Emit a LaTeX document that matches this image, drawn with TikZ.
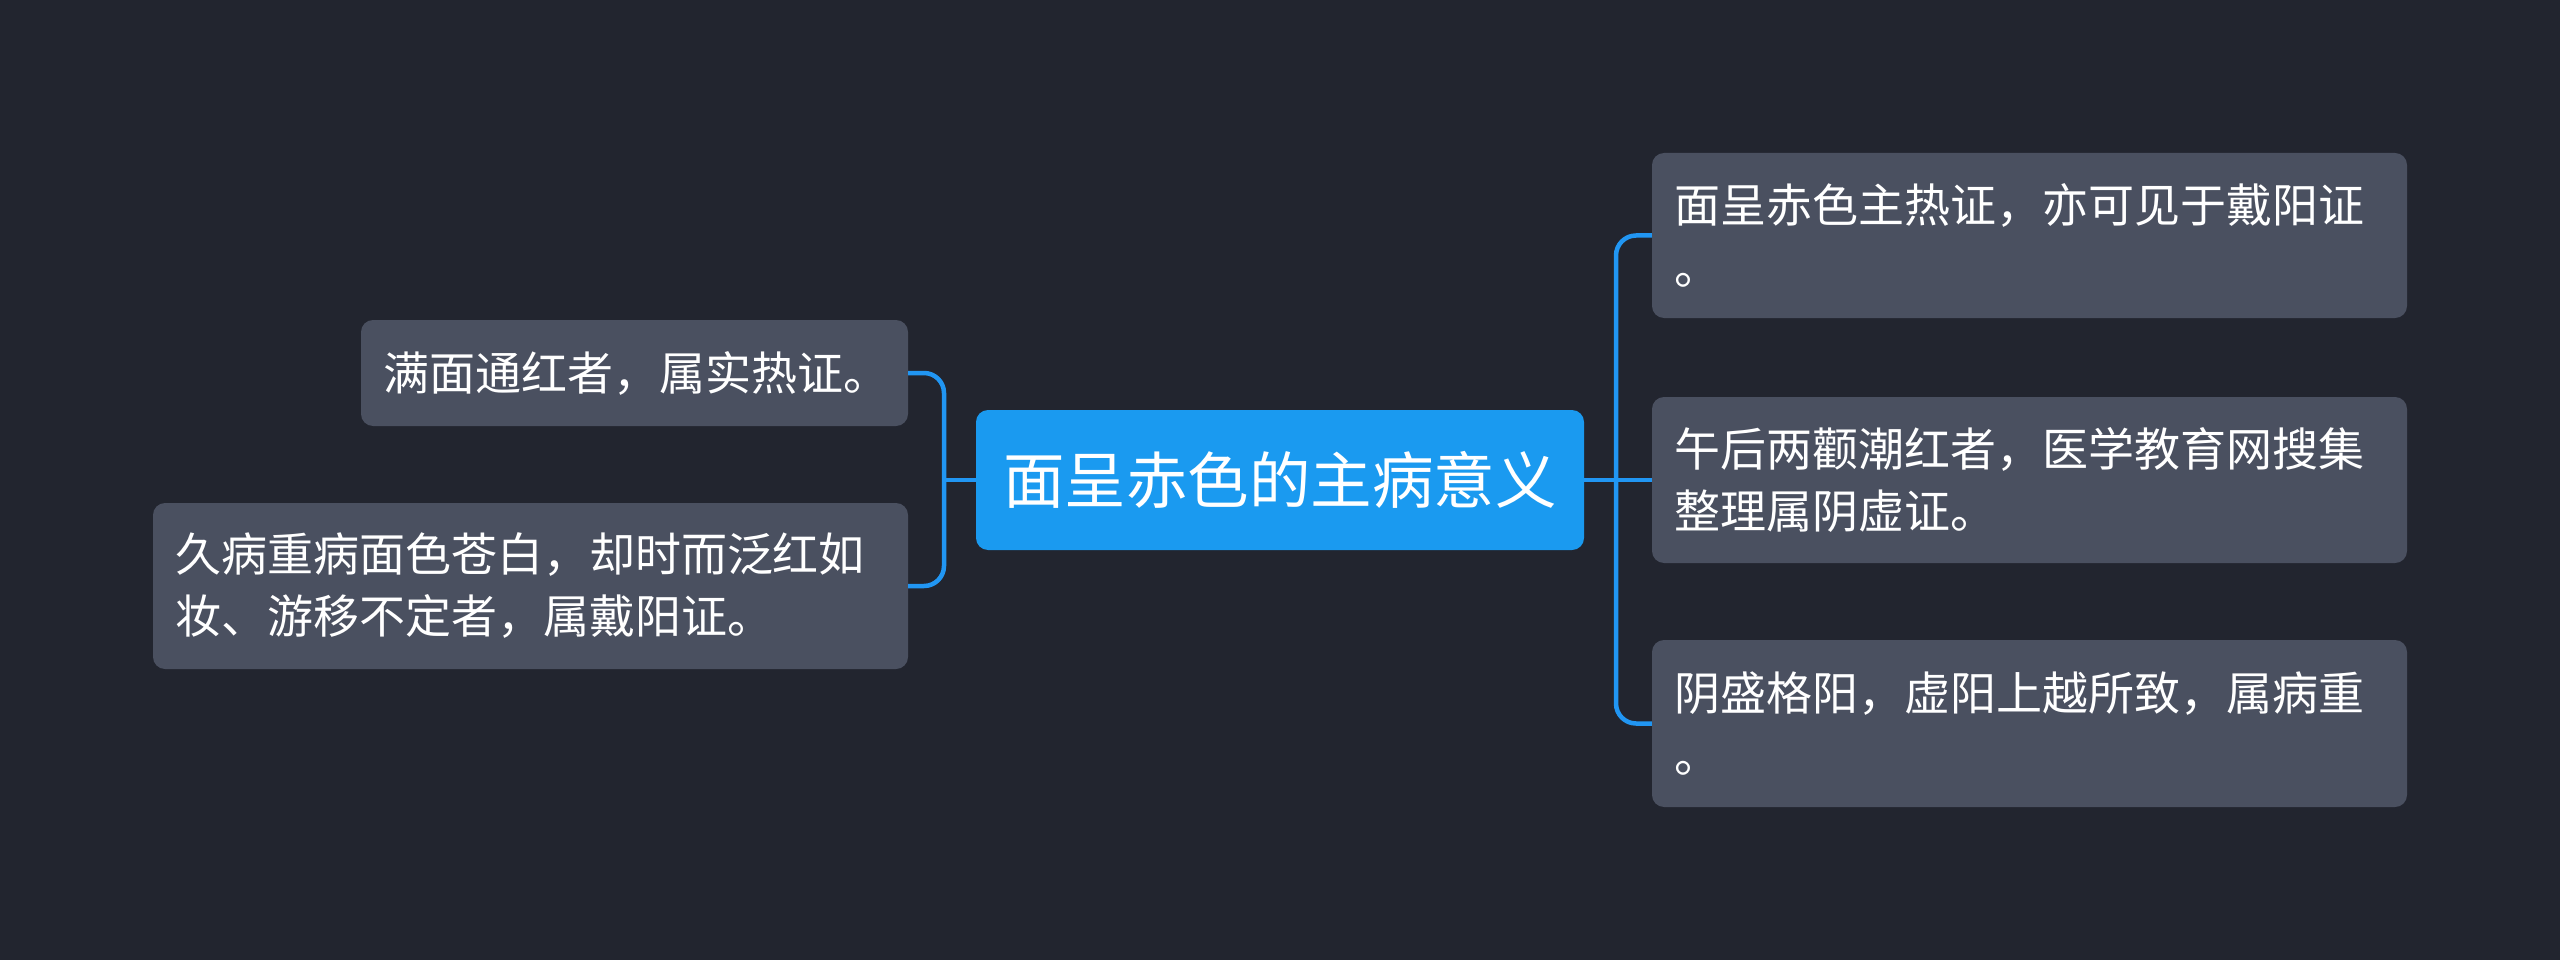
\documentclass[tikz,border=0pt]{standalone}
\usepackage{fontspec}
\setmainfont{Noto Sans CJK SC}
\definecolor{bgc}{HTML}{22252F}
\definecolor{boxc}{HTML}{4A5060}
\definecolor{mainc}{HTML}{1A9AF0}
\definecolor{linec}{HTML}{2196F3}
\begin{document}
\begin{tikzpicture}[x=1pt,y=-1pt,
  mainbox/.style={fill=mainc, rounded corners=12pt, minimum width=608pt, minimum height=140pt,
    text=white, font=\fontsize{61.5}{72}\selectfont, inner sep=0pt},
  subbox/.style={fill=boxc, rounded corners=12pt, text=white, font=\fontsize{46}{62}\selectfont,
    align=left, inner xsep=22pt, inner ysep=0pt},
  conn/.style={draw=linec, line width=4.5pt, rounded corners=20pt}]
\useasboundingbox (0,0) rectangle (2560,960);
\fill[bgc] (0,0) rectangle (2560,960);

\node[mainbox] (c) at (1280,480) {面呈赤色的主病意义};

\node[subbox, minimum width=755pt, minimum height=165pt, text width=711pt] (r1) at (2029.5,235.5)
  {面呈赤色主热证，亦可见于戴阳证\\。};
\node[subbox, minimum width=755pt, minimum height=166pt, text width=711pt] (r2) at (2029.5,480)
  {午后两颧潮红者，医学教育网搜集\\整理属阴虚证。};
\node[subbox, minimum width=755pt, minimum height=167pt, text width=711pt] (r3) at (2029.5,723.5)
  {阴盛格阳，虚阳上越所致，属病重\\。};

\node[subbox, minimum width=547pt, minimum height=106pt, text width=503pt] (l1) at (634.5,373)
  {满面通红者，属实热证。};
\node[subbox, minimum width=755pt, minimum height=166pt, text width=711pt] (l2) at (530.5,586)
  {久病重病面色苍白，却时而泛红如\\妆、游移不定者，属戴阳证。};

\coordinate (rj) at (1616,480);
\coordinate (lj) at (944,480);

\draw[conn] (c.east) -- (r2.west);
\draw[conn] (r1.west) -| (rj) |- (r3.west);
\draw[conn] (c.west) -- (lj);
\draw[conn] (l1.east) -| (lj) |- (l2.east);
\end{tikzpicture}
\end{document}
